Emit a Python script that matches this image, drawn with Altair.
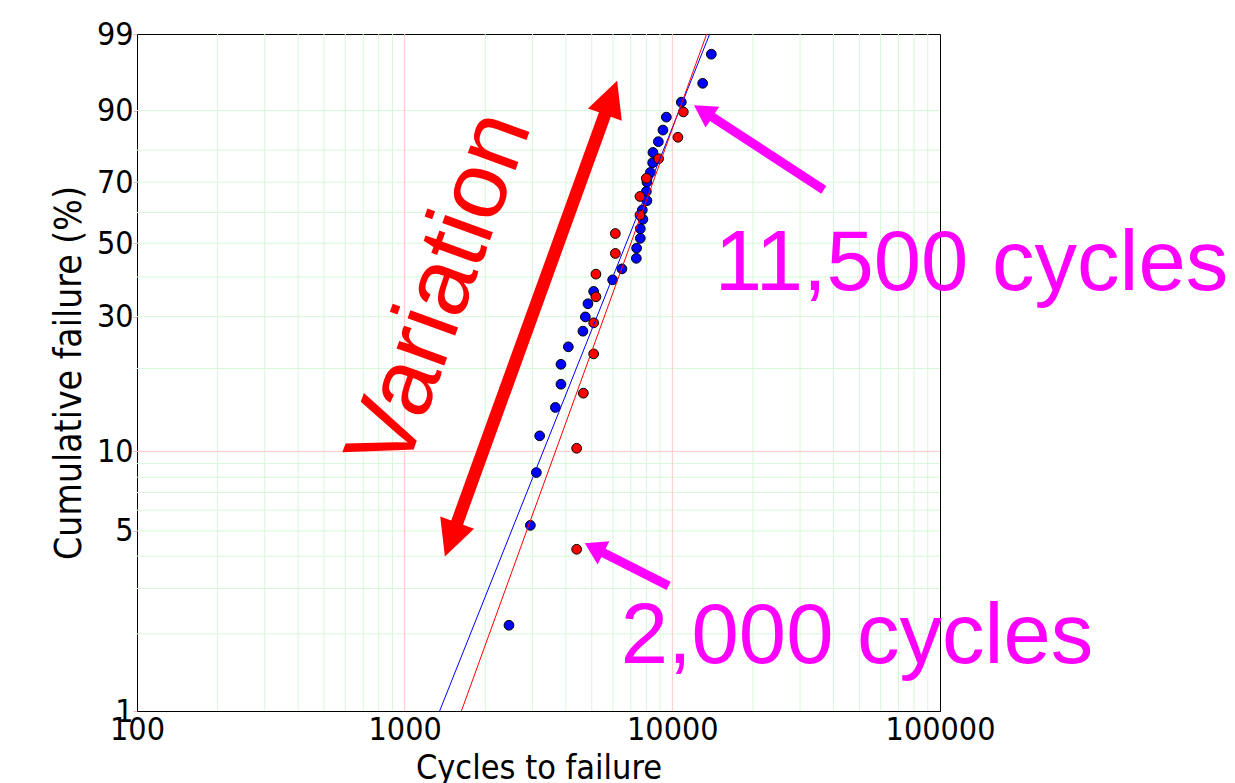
import math
import altair as alt
import pandas as pd

# ---------------- data ----------------
blue_cycles = [2453, 2949, 3105, 3194, 3656, 3836, 3836, 4088, 4634, 4732, 4839, 5082,
               5984, 6482, 7337, 7356, 7593, 7593, 7764, 7725, 8038, 7998, 8038, 8276,
               8442, 8463, 8866, 9224, 9498, 10803, 12981, 13986]
blue_pct = [2.16, 5.25, 8.33, 11.42, 14.51, 17.59, 20.68, 23.77, 26.85, 29.94, 33.02, 36.11,
            39.20, 42.28, 45.37, 48.46, 51.54, 54.63, 57.72, 60.80, 63.89, 66.98, 70.06, 73.15,
            76.23, 79.32, 82.41, 85.49, 88.58, 91.67, 94.75, 97.84]

red_cycles = [4391, 4391, 4651, 5082, 5082, 5183, 5183, 6125, 6125, 7568, 7568, 7998,
              8889, 10493, 10992]
red_pct = [4.25, 10.27, 16.34, 22.48, 28.63, 34.74, 40.79, 46.83, 53.09, 59.11, 65.29, 71.29,
           77.44, 83.61, 89.72]

# fitted Weibull lines: cycles at 1 % and 99 %
fit_pct = [1, 99]
blue_fit_cycles = [1351, 13790]
red_fit_cycles = [1629, 13440]

# axes / grid
x_ticks = [100, 1000, 10000, 100000]
y_ticks = [1, 5, 10, 30, 50, 70, 90, 99]
x_grid_minor = [200, 300, 400, 500, 600, 700, 800, 900,
                2000, 3000, 4000, 5000, 6000, 7000, 8000, 9000,
                20000, 30000, 40000, 50000, 60000, 70000, 80000, 90000]
x_grid_major = [1000, 10000]
y_grid_minor = [2, 3, 4, 5, 6, 7, 8, 9, 20, 30, 40, 50, 60, 70, 80, 90]
y_grid_major = [10]

# annotations (anchored in data coordinates)
variation_text = ["Variation"]
variation_cycles = [1363]
variation_pct = [36.3]
label_texts = ["11,500 cycles", "2,000 cycles"]
label_cycles = [14400, 6414]
label_pct = [36.53, 1.544]
arrow_cycles = [2965, 21058, 6753]
arrow_pct = [29.57, 80.78, 3.71]

# ---------------- helpers ----------------
W = "log(-log(1 - datum.pct / 100))"


def weib(p):
    return math.log(-math.log(1 - p / 100.0))


x_scale = alt.Scale(type="log", domain=[x_ticks[0], x_ticks[-1]], nice=False)
y_scale = alt.Scale(domain=[weib(y_ticks[0]), weib(y_ticks[-1])], nice=False, zero=False)

LABEL_FONT = "DejaVu Sans Condensed"

x_axis = alt.Axis(values=x_ticks, format="d", labelFlush=False, labelOverlap=False,
                  grid=False, tickSize=0, labelPadding=3,
                  labelFont=LABEL_FONT, labelFontSize=32, labelColor="black",
                  title="Cycles to failure", titleFont=LABEL_FONT, titleFontSize=34,
                  titleFontWeight="normal", titleColor="black", titlePadding=6,
                  domainColor="black", domainWidth=1)
y_axis = alt.Axis(values=[weib(p) for p in y_ticks],
                  labelExpr="round(100 * (1 - exp(-exp(datum.value))))",
                  labelOverlap=False, labelFlush=False,
                  grid=False, tickSize=4, tickColor="#ffb4b4", labelPadding=0,
                  labelFont=LABEL_FONT, labelFontSize=32, labelColor="black",
                  title="Cumulative failure (%)", titleFont=LABEL_FONT, titleFontSize=37,
                  titleFontWeight="normal", titleColor="black", titlePadding=8,
                  domainColor="black", domainWidth=1)

X = alt.X("x:Q", scale=x_scale, axis=x_axis)
Y = alt.Y("y:Q", scale=y_scale, axis=y_axis)

GREEN = "#d6f8d6"
PINK = "#ffc8c8"

layers = []

# gridlines
layers.append(alt.Chart(pd.DataFrame({"x": x_grid_minor})).mark_rule(color=GREEN, strokeWidth=1).encode(x=X))
layers.append(alt.Chart(pd.DataFrame({"pct": y_grid_minor})).transform_calculate(y=W)
              .mark_rule(color=GREEN, strokeWidth=1).encode(y=Y))
layers.append(alt.Chart(pd.DataFrame({"x": x_grid_major})).mark_rule(color=PINK, strokeWidth=1).encode(x=X))
layers.append(alt.Chart(pd.DataFrame({"pct": y_grid_major})).transform_calculate(y=W)
              .mark_rule(color=PINK, strokeWidth=1).encode(y=Y))

# data points
blue_df = pd.DataFrame({"x": blue_cycles, "pct": blue_pct})
red_df = pd.DataFrame({"x": red_cycles, "pct": red_pct})
pt = dict(shape="circle", filled=True, size=95, stroke="black", strokeWidth=1, opacity=1)
layers.append(alt.Chart(blue_df).transform_calculate(y=W)
              .mark_point(fill="#0000ff", **pt).encode(x=X, y=Y))
layers.append(alt.Chart(red_df).transform_calculate(y=W)
              .mark_point(fill="#ff0000", **pt).encode(x=X, y=Y))

# fit lines
layers.append(alt.Chart(pd.DataFrame({"x": blue_fit_cycles, "pct": fit_pct})).transform_calculate(y=W)
              .mark_line(color="#0000ff", strokeWidth=1).encode(x=X, y=Y))
layers.append(alt.Chart(pd.DataFrame({"x": red_fit_cycles, "pct": fit_pct})).transform_calculate(y=W)
              .mark_line(color="#ff0000", strokeWidth=1).encode(x=X, y=Y))


# arrows drawn as custom symbol paths (unit box -1..1, scaled by sqrt(size)/2)
def arrow_path(length, head_len, head_hw, shaft_hw, double=False):
    h = length / 2.0
    hl, hw, sw = head_len / h, head_hw / h, shaft_hw / h
    a = -1 + hl
    if double:
        b = 1 - hl
        pts = [(0, -1), (hw, a), (sw, a), (sw, b), (hw, b), (0, 1),
               (-hw, b), (-sw, b), (-sw, a), (-hw, a)]
    else:
        pts = [(0, -1), (hw, a), (sw, a), (sw, 1), (-sw, 1), (-sw, a), (-hw, a)]
    return "M" + " L".join(f"{px:.4f},{py:.4f}" for px, py in pts) + " Z"


arrow_style = [
    dict(length=506, head_len=36, head_hw=18, shaft_hw=6.3, double=True, angle=19.9, color="#ff0000"),
    dict(length=155, head_len=22, head_hw=12.5, shaft_hw=4.6, double=False, angle=303.1, color="#ff00ff"),
    dict(length=94, head_len=21, head_hw=13, shaft_hw=4.6, double=False, angle=296.9, color="#ff00ff"),
]
for cyc, pc, st in zip(arrow_cycles, arrow_pct, arrow_style):
    path = arrow_path(st["length"], st["head_len"], st["head_hw"], st["shaft_hw"], st["double"])
    layers.append(alt.Chart(pd.DataFrame({"x": [cyc], "pct": [pc]})).transform_calculate(y=W)
                  .mark_point(shape=path, filled=True, fill=st["color"], strokeWidth=0,
                              opacity=1, size=st["length"] ** 2, angle=st["angle"])
                  .encode(x=X, y=Y))

# annotation texts
layers.append(alt.Chart(pd.DataFrame({"x": variation_cycles, "pct": variation_pct, "t": variation_text}))
              .transform_calculate(y=W)
              .mark_text(font="Liberation Sans", fontSize=96, color="#ff0000", angle=290,
                         align="center", baseline="middle")
              .encode(x=X, y=Y, text="t:N"))
layers.append(alt.Chart(pd.DataFrame({"x": label_cycles, "pct": label_pct, "t": label_texts}))
              .transform_calculate(y=W)
              .mark_text(font="Liberation Sans", fontSize=85, color="#ff00ff",
                         align="left", baseline="alphabetic")
              .encode(x=X, y=Y, text="t:N"))

chart = (
    alt.layer(*layers)
    .properties(width=803, height=677, autosize=alt.AutoSizeParams(type="none"),
                padding={"left": 137, "top": 34, "right": 295, "bottom": 72},
                background="white")
    .configure_view(stroke="black", strokeWidth=1)
)

chart.save("out.html", embed_options={"renderer": "svg", "actions": False})
